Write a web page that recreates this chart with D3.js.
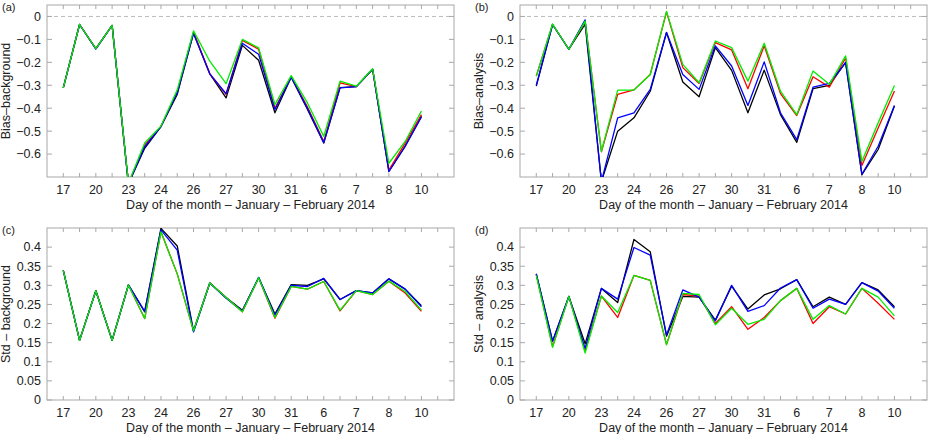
<!DOCTYPE html>
<html>
<head>
<meta charset="utf-8">
<script src="https://cdn.jsdelivr.net/npm/d3@7"></script>
<style>
  body { margin: 0; background: #fff; }
  text { font-family: "Liberation Sans", Arial, Helvetica, sans-serif; fill: #222; }
</style>
</head>
<body>
<svg id="chart" width="928" height="434"></svg>
<script>
// x tick labels, one for every second observation index
const dayLabels = ["17", "20", "23", "24", "26", "27", "30", "31", "6", "7", "8", "10"];
const nPoints = 23;
const xIndex = d3.range(nPoints);

// (a) Bias - background
const biasBgBlack = [-0.311, -0.035, -0.14, -0.039, -0.73, -0.575, -0.48, -0.34, -0.072, -0.25, -0.355, -0.126, -0.191, -0.42, -0.265, -0.405, -0.552, -0.31, -0.306, -0.23, -0.676, -0.565, -0.435];
const biasBgRed   = [-0.311, -0.035, -0.14, -0.039, -0.73, -0.56, -0.48, -0.33, -0.068, -0.25, -0.34, -0.104, -0.143, -0.40, -0.262, -0.395, -0.545, -0.29, -0.306, -0.23, -0.67, -0.552, -0.428];
const biasBgBlue  = [-0.311, -0.035, -0.142, -0.039, -0.73, -0.568, -0.48, -0.333, -0.074, -0.25, -0.337, -0.117, -0.165, -0.406, -0.265, -0.40, -0.55, -0.311, -0.306, -0.23, -0.676, -0.567, -0.438];
const biasBgGreen = [-0.311, -0.035, -0.14, -0.039, -0.727, -0.552, -0.478, -0.32, -0.063, -0.195, -0.293, -0.10, -0.137, -0.384, -0.258, -0.377, -0.523, -0.282, -0.304, -0.228, -0.64, -0.545, -0.412];

// (b) Bias - analysis
const biasAnBlack = [-0.304, -0.035, -0.143, -0.034, -0.72, -0.50, -0.442, -0.326, -0.07, -0.286, -0.35, -0.136, -0.235, -0.42, -0.234, -0.428, -0.549, -0.315, -0.30, -0.20, -0.69, -0.58, -0.39];
const biasAnRed   = [-0.26, -0.035, -0.143, -0.02, -0.59, -0.34, -0.32, -0.253, 0.02, -0.223, -0.292, -0.114, -0.146, -0.315, -0.128, -0.336, -0.432, -0.263, -0.308, -0.181, -0.65, -0.486, -0.325];
const biasAnBlue  = [-0.30, -0.035, -0.143, -0.015, -0.72, -0.442, -0.42, -0.318, -0.07, -0.253, -0.318, -0.128, -0.216, -0.388, -0.198, -0.42, -0.537, -0.308, -0.292, -0.201, -0.688, -0.566, -0.388];
const biasAnGreen = [-0.26, -0.033, -0.143, -0.02, -0.588, -0.321, -0.321, -0.253, 0.022, -0.209, -0.289, -0.107, -0.136, -0.282, -0.117, -0.326, -0.428, -0.238, -0.296, -0.172, -0.632, -0.464, -0.301];

// (c) Std - background
const stdBgBlack = [0.339, 0.156, 0.286, 0.156, 0.301, 0.231, 0.449, 0.403, 0.181, 0.306, 0.268, 0.235, 0.32, 0.225, 0.302, 0.30, 0.317, 0.263, 0.286, 0.28, 0.317, 0.29, 0.247];
const stdBgRed   = [0.339, 0.156, 0.286, 0.156, 0.301, 0.213, 0.44, 0.33, 0.181, 0.306, 0.268, 0.231, 0.32, 0.214, 0.297, 0.29, 0.31, 0.233, 0.286, 0.276, 0.311, 0.28, 0.232];
const stdBgBlue  = [0.339, 0.156, 0.286, 0.156, 0.301, 0.231, 0.445, 0.392, 0.178, 0.306, 0.266, 0.233, 0.321, 0.222, 0.30, 0.297, 0.318, 0.263, 0.286, 0.28, 0.317, 0.29, 0.244];
const stdBgGreen = [0.339, 0.156, 0.286, 0.156, 0.301, 0.213, 0.44, 0.33, 0.181, 0.306, 0.268, 0.231, 0.32, 0.216, 0.297, 0.29, 0.31, 0.235, 0.286, 0.276, 0.311, 0.284, 0.235];

// (d) Std - analysis
const stdAnBlack = [0.33, 0.154, 0.271, 0.147, 0.292, 0.255, 0.42, 0.388, 0.167, 0.271, 0.269, 0.209, 0.298, 0.238, 0.275, 0.291, 0.315, 0.244, 0.269, 0.25, 0.307, 0.288, 0.244];
const stdAnRed   = [0.328, 0.14, 0.271, 0.128, 0.272, 0.216, 0.326, 0.313, 0.145, 0.276, 0.272, 0.20, 0.244, 0.185, 0.216, 0.26, 0.292, 0.20, 0.244, 0.225, 0.292, 0.253, 0.211];
const stdAnBlue  = [0.33, 0.154, 0.271, 0.135, 0.292, 0.264, 0.399, 0.379, 0.17, 0.288, 0.269, 0.207, 0.30, 0.232, 0.247, 0.293, 0.315, 0.24, 0.264, 0.25, 0.307, 0.285, 0.24];
const stdAnGreen = [0.326, 0.138, 0.271, 0.123, 0.272, 0.229, 0.326, 0.313, 0.145, 0.279, 0.276, 0.197, 0.24, 0.198, 0.211, 0.26, 0.292, 0.211, 0.247, 0.225, 0.292, 0.269, 0.22];

const seriesColors = ["#000000", "#ff0000", "#0000ff", "#00ee00"];
const xTitle = "Day of the month \u2013 January \u2013 February 2014";

const panels = [
  { tag: "(a)", ylabel: "Bias\u2013background", left: 47, top: 5, series: [biasBgBlack, biasBgRed, biasBgBlue, biasBgGreen],
    ydomain: [-0.7, 0.05], yticks: [0, -0.1, -0.2, -0.3, -0.4, -0.5, -0.6], zero: true },
  { tag: "(b)", ylabel: "Bias\u2013analysis", left: 520, top: 5, series: [biasAnBlack, biasAnRed, biasAnBlue, biasAnGreen],
    ydomain: [-0.7, 0.05], yticks: [0, -0.1, -0.2, -0.3, -0.4, -0.5, -0.6], zero: true },
  { tag: "(c)", ylabel: "Std \u2013 background", left: 47, top: 228, series: [stdBgBlack, stdBgRed, stdBgBlue, stdBgGreen],
    ydomain: [0, 0.45], yticks: [0, 0.05, 0.1, 0.15, 0.2, 0.25, 0.3, 0.35, 0.4], zero: false },
  { tag: "(d)", ylabel: "Std \u2013 analysis", left: 520, top: 228, series: [stdAnBlack, stdAnRed, stdAnBlue, stdAnGreen],
    ydomain: [0, 0.45], yticks: [0, 0.05, 0.1, 0.15, 0.2, 0.25, 0.3, 0.35, 0.4], zero: false }
];

const plotW = 407;
const plotH = 172;
const frameColor = "#a8a8a8";
const svg = d3.select("#chart");

panels.forEach(function (p, k) {
  const g = svg.append("g").attr("transform", "translate(" + p.left + "," + p.top + ")");

  const x = d3.scaleLinear().domain([-1, 24]).range([0, plotW]);
  const y = d3.scaleLinear().domain(p.ydomain).range([plotH, 0]);

  const clipId = "clip" + k;
  g.append("clipPath").attr("id", clipId)
    .append("rect").attr("width", plotW).attr("height", plotH);

  // tick marks (inward, mirrored)
  const xt = d3.range(0, 24);
  g.selectAll(".xtb").data(xt).enter().append("line")
    .attr("x1", x).attr("x2", x).attr("y1", plotH).attr("y2", plotH - 4)
    .attr("stroke", frameColor);
  g.selectAll(".xtt").data(xt).enter().append("line")
    .attr("x1", x).attr("x2", x).attr("y1", 0).attr("y2", 4)
    .attr("stroke", frameColor);
  g.selectAll(".ytl").data(p.yticks).enter().append("line")
    .attr("x1", 0).attr("x2", 5).attr("y1", y).attr("y2", y)
    .attr("stroke", frameColor);
  g.selectAll(".ytr").data(p.yticks).enter().append("line")
    .attr("x1", plotW).attr("x2", plotW - 5).attr("y1", y).attr("y2", y)
    .attr("stroke", frameColor);

  if (p.zero) {
    g.append("line")
      .attr("x1", 0).attr("x2", plotW).attr("y1", y(0)).attr("y2", y(0))
      .attr("stroke", "#aaaaaa").attr("stroke-width", 0.8)
      .attr("stroke-dasharray", "4,3");
  }

  // frame
  g.append("rect").attr("width", plotW).attr("height", plotH)
    .attr("fill", "none").attr("stroke", frameColor).attr("stroke-width", 1);

  // y tick labels
  g.selectAll(".ylab").data(p.yticks).enter().append("text")
    .attr("x", -6).attr("y", y).attr("dy", "0.35em")
    .attr("text-anchor", "end").attr("font-size", 12.5)
    .text(function (d) { return d === 0 ? "0" : String(d).replace("-", "\u2212"); });

  // x tick labels
  g.selectAll(".xlab").data(dayLabels).enter().append("text")
    .attr("x", function (d, i) { return x(i * 2); })
    .attr("y", plotH + 17)
    .attr("text-anchor", "middle").attr("font-size", 12.5)
    .text(function (d) { return d; });

  // axis titles
  g.append("text")
    .attr("x", plotW / 2).attr("y", plotH + 32)
    .attr("text-anchor", "middle").attr("font-size", 12.5)
    .text(xTitle);
  g.append("text")
    .attr("transform", "translate(" + (-37) + "," + (plotH / 2) + ") rotate(-90)")
    .attr("text-anchor", "middle").attr("font-size", 12.5)
    .text(p.ylabel);

  // panel tag
  g.append("text")
    .attr("x", -45).attr("y", 6)
    .attr("font-size", 11)
    .text(p.tag);

  // lines
  const line = d3.line()
    .x(function (d, i) { return x(xIndex[i]); })
    .y(function (d) { return y(d); });

  const lines = g.append("g").attr("clip-path", "url(#" + clipId + ")");
  p.series.forEach(function (s, j) {
    lines.append("path")
      .datum(s)
      .attr("d", line)
      .attr("fill", "none")
      .attr("stroke", seriesColors[j])
      .attr("stroke-width", 1.3)
      .attr("stroke-linejoin", "round");
  });
});
</script>
</body>
</html>
